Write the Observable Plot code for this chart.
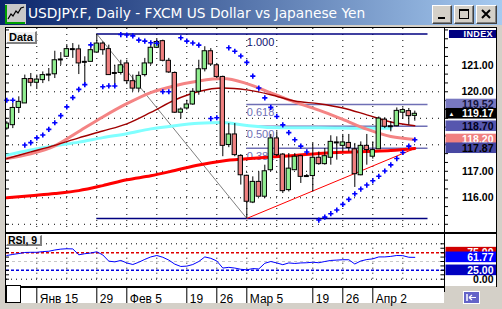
<!DOCTYPE html>
<html>
<head>
<meta charset="utf-8">
<script src="https://cdn.jsdelivr.net/npm/d3@7"></script>
<script src="https://cdn.jsdelivr.net/npm/@observablehq/plot@0.6"></script>
<style>
  html, body { margin:0; padding:0; }
  body { width:502px; height:309px; overflow:hidden; background:#d4d0c8; font-family:"Liberation Sans", Arial, sans-serif; }
  #win { position:relative; width:502px; height:309px; background:#d4d0c8; overflow:hidden; }
  .a { position:absolute; box-sizing:border-box; }
  #title { left:0; top:0; width:502px; height:25px; background:linear-gradient(to right,#0a246a,#a6caf0); }
  #ttext { left:28px; top:4px; color:#fff; font-family:"DejaVu Sans", sans-serif; font-size:13.75px; white-space:nowrap; line-height:18px; }
  .btn { top:5px; width:20px; height:19px; background:#d4d0c8; border:1px solid; border-color:#ffffff #404040 #404040 #ffffff; box-shadow: inset -1px -1px #808080; }
  .btn svg { position:absolute; left:0; top:0; }
  .lbl { background:#f2f2f2; border-right:2px solid #808080; border-bottom:2px solid #808080; border-top:1px solid #fff; border-left:1px solid #fff; font-weight:bold; color:#000; white-space:nowrap; }
  svg.plot { position:absolute; }
</style>
</head>
<body>
<div id="win">
  <div class="a" id="title"></div>
  <div class="a" style="left:5px;top:4px;width:21px;height:20px;">
    <svg width="21" height="20"><rect x="0" y="0" width="21" height="20" fill="#c8c8c8"/><path d="M1,1V19H20" stroke="#00a000" stroke-width="2" fill="none"/><polyline points="3,15 6,10 8,12 11,7 13,9 16,4 19,3" fill="none" stroke="#000" stroke-width="1.2"/></svg>
  </div>
  <div class="a" id="ttext">USDJPY.F, Daily - FXCM US Dollar vs Japanese Yen</div>
  <div class="a btn" style="left:432px;"><svg width="18" height="17"><rect x="5" y="11" width="7" height="2" fill="#000"/></svg></div>
  <div class="a btn" style="left:454px;"><svg width="18" height="17"><rect x="4.5" y="3.5" width="9" height="9" fill="none" stroke="#000"/><rect x="4" y="3" width="10" height="2" fill="#000"/></svg></div>
  <div class="a btn" style="left:476px;width:21px;"><svg width="19" height="17"><path d="M5,4L13,12M13,4L5,12" stroke="#000" stroke-width="2"/></svg></div>
  <div id="plots"></div>
</div>
<script>
// ---------------- DATA ----------------
const firstIndex = -1;  // index of the first (partly hidden) candle; Jan 15 = index 4
const opens  = [118.61,118.74,119.39,119.56,120.48,120.34,120.44,120.65,120.66,121.22,121.32,121.61,121.60,121.13,121.13,121.48,121.82,121.61,120.71,120.71,121.07,120.40,120.12,120.63,121.07,121.66,121.91,121.17,120.71,119.21,119.37,119.52,120.00,120.85,121.53,121.00,120.56,117.99,118.39,117.58,116.83,115.82,116.60,116.04,117.04,118.24,117.63,116.29,117.04,117.57,116.82,116.82,117.51,117.27,117.51,118.09,117.96,118.07,117.83,116.85,117.96,117.55,117.83,118.95,118.70,118.70,119.21,119.27,119.09];
const highs  = [118.87,119.56,119.81,120.63,120.69,120.63,120.75,120.88,121.53,121.48,121.78,121.82,121.76,121.32,121.76,122.17,121.88,121.76,121.00,121.19,121.19,120.63,120.75,121.26,121.78,122.01,121.95,121.26,120.75,119.39,119.68,120.12,121.19,121.70,121.63,121.07,120.59,118.80,118.80,117.63,116.85,116.79,116.98,117.23,118.39,118.49,117.67,117.67,117.67,117.61,116.88,118.05,117.73,117.86,118.34,118.30,118.39,118.39,118.05,118.11,118.39,118.11,119.05,119.02,118.87,119.39,119.39,119.37,119.27];
const lows   = [118.55,118.61,119.18,119.56,120.19,120.12,120.31,120.38,120.50,121.00,121.32,121.26,120.65,120.25,121.13,121.48,121.38,120.63,120.25,120.63,120.27,120.00,120.00,120.56,121.00,121.63,121.13,120.69,119.18,118.97,119.31,119.49,119.87,120.75,120.98,120.50,117.55,117.89,117.55,116.48,115.22,115.78,116.04,115.97,116.98,117.55,116.16,116.22,117.04,116.54,116.78,116.22,117.23,117.23,117.23,117.42,117.73,117.73,116.39,116.83,117.23,117.46,117.83,118.61,118.49,118.68,118.99,118.74,118.89];
const closes = [118.80,119.39,119.62,120.48,120.34,120.46,120.63,120.65,121.19,121.22,121.61,121.61,121.07,121.13,121.57,121.82,121.57,120.63,120.71,121.00,120.40,120.12,120.60,121.07,121.66,121.88,121.17,120.73,119.21,119.33,119.52,120.00,120.85,121.53,121.03,120.56,117.96,118.39,117.61,116.85,115.85,116.60,116.04,117.00,118.24,117.61,116.25,117.10,117.55,116.79,116.82,117.51,117.27,117.57,118.11,118.09,118.09,117.88,116.89,117.96,117.80,117.80,118.99,118.68,118.70,119.28,119.31,119.08,119.17];
const sar    = [119.68,119.68,null,117.99,118.08,118.26,118.37,118.58,118.83,119.10,119.43,119.78,120.09,120.27,121.77,null,120.19,120.22,120.22,122.16,122.14,122.11,121.95,121.91,121.85,121.83,120.00,120.00,null,122.04,121.91,121.84,121.76,null,118.99,119.02,null,121.66,121.53,121.35,121.11,120.59,120.14,119.77,119.41,119.07,118.75,118.46,118.19,117.95,117.73,null,115.16,115.27,115.40,115.54,115.75,115.94,116.15,116.33,116.48,116.64,116.81,117.01,117.24,117.48,117.71,117.95,118.19];
const rsi    = [67,70,72.5,75.5,76,76,78,79,82.5,85,86,85.5,69,72,74,77.5,68.5,51,49,53,46,41.5,48,56,63,67,62,54,42.5,36,37,41.5,50,63,59,51.5,31.5,33.5,31.5,28,26.5,30,29,45,50,46,41,46,44.5,46,46.5,48,46.5,50,53,54,55,55,43,51.5,55.5,57.5,63,63,64.5,67,66.5,62,61.77];

const maIdx    = [-1,3,7,11,15,19,23,27,31,35,39,43,47,51,55,59,63,67];
const maPink   = [117.48,117.66,117.96,118.50,119.05,119.55,119.97,120.23,120.41,120.50,120.31,119.96,119.61,119.31,118.96,118.59,118.31,118.20];
const maMaroon = [117.48,117.73,117.98,118.26,118.52,118.79,119.22,119.69,120.01,120.14,120.07,119.89,119.65,119.55,119.39,119.13,118.86,118.72];
const maCyan   = [117.61,117.80,117.96,118.10,118.27,118.42,118.60,118.72,118.81,118.84,118.73,118.65,118.64,118.64,118.63,118.62,118.62,null];
const maRed    = [116.00,116.08,116.16,116.27,116.46,116.68,116.83,117.03,117.24,117.39,117.47,117.54,117.60,117.67,117.72,117.75,117.78,117.86];

const fibNames    = ["1.000","0.618","0.500","0.382"];
const fibPrices   = [122.18, 119.52, 118.70, 117.87];
const fibLowPrice = 115.22;
const swingHighIdx = 14, swingLowIdx = 39, fibEndIdx = 69.2;
const trendEndIdx = 67, trendEndPrice = 117.86;

const gridPrices      = [115,116,117,118,119,120,121];
const axisLabelPrices = [116,117,120,121];
const weekIdx    = [4,9,14,19,24,29,34,39,44,50,55,60,65];
const dateIdx    = [4,14,19,29,34,39,50,55,60];
const dateLabels = ["Янв 15","29","Фев 5","19","26","Мар 5","19","26","Апр 2"];
const rsiUpper = 75, rsiLower = 25;

// ---------------- BUILD ----------------
const FONT = '"Liberation Sans", Arial, sans-serif';
const xDom = [-1.05, 71.95];
const yDom = [114.69, 122.388];
const rsiDom = [-20.6, 126.3];

const candles = opens.map((o, k) => ({i: firstIndex + k, o, h: highs[k], l: lows[k], c: closes[k]}));
const bodies = candles.filter(d => d.o !== d.c);
const dojis = candles.filter(d => d.o === d.c);
const sarPts = sar.map((v, k) => ({i: firstIndex + k, v})).filter(d => d.v != null);
const rsiPts = rsi.map((v, k) => ({i: firstIndex + k, v}));
const maSeries = vals => maIdx.map((i, k) => ({i, v: vals[k]})).filter(d => d.v != null);
const thirds = d3.range(-1, 24).map(k => 115 + k / 3).filter(v => v > yDom[0] && v < yDom[1]);

const fibOuter = [
  {v: fibPrices[0], x1: swingHighIdx, x2: fibEndIdx},
  {v: fibLowPrice, x1: swingHighIdx, x2: fibEndIdx}
];
const fibInner = fibPrices.slice(1).map(v => ({v, x1: swingLowIdx, x2: fibEndIdx}));
const fibLabels = fibPrices.map((v, k) => ({v, name: fibNames[k], color: k === 0 ? "#101070" : "#6f6fb5"}));

const mainPlot = Plot.plot({
  width: 438, height: 204, margin: 0,
  x: {domain: xDom, axis: null},
  y: {domain: yDom, axis: null},
  style: {background: "white", fontFamily: FONT, overflow: "visible"},
  marks: [
    Plot.ruleY(gridPrices, {stroke: "#000", strokeDasharray: "1,5"}),
    Plot.ruleX(weekIdx, {stroke: "#000", strokeDasharray: "1,5"}),
    Plot.ruleY(thirds, {x1: () => xDom[0], x2: () => xDom[0] + 0.5, stroke: "#000"}),
    Plot.ruleY(fibOuter, {y: "v", x1: "x1", x2: "x2", stroke: "#000080", strokeWidth: 1.4}),
    Plot.ruleY(fibInner, {y: "v", x1: "x1", x2: "x2", stroke: "#6f6fb5", strokeWidth: 1.3}),
    Plot.text(fibLabels, {x: () => swingLowIdx, y: "v", text: "name", fill: "color", textAnchor: "start", lineAnchor: "top", dy: 4, fontSize: 11}),
    Plot.link([{x1: swingHighIdx, y1: fibPrices[0], x2: swingLowIdx, y2: fibLowPrice}], {x1: "x1", y1: "y1", x2: "x2", y2: "y2", stroke: "#707070", strokeWidth: 0.9}),
    Plot.link([{x1: swingLowIdx, y1: fibLowPrice, x2: trendEndIdx, y2: trendEndPrice}], {x1: "x1", y1: "y1", x2: "x2", y2: "y2", stroke: "#ff0000", strokeWidth: 1}),
    Plot.line(maSeries(maRed), {x: "i", y: "v", stroke: "#ff0000", strokeWidth: 3, curve: "monotone-x", clip: true}),
    Plot.line(maSeries(maCyan), {x: "i", y: "v", stroke: "#80ffff", strokeWidth: 3, curve: "monotone-x", clip: true}),
    Plot.line(maSeries(maPink), {x: "i", y: "v", stroke: "#f48484", strokeWidth: 3, curve: "monotone-x", clip: true}),
    Plot.line(maSeries(maMaroon), {x: "i", y: "v", stroke: "#a00000", strokeWidth: 1.4, curve: "monotone-x", clip: true}),
    Plot.ruleX(candles, {x: "i", y1: "l", y2: "h", stroke: "#000", clip: true}),
    Plot.rect(bodies, {x1: d => d.i - 0.36, x2: d => d.i + 0.36, y1: "o", y2: "c",
      fill: d => d.c > d.o ? "#90ee90" : "#f08080", stroke: "#000", clip: true}),
    Plot.ruleY(dojis, {y: "o", x1: d => d.i - 0.42, x2: d => d.i + 0.42, stroke: "#000", strokeWidth: 2, clip: true}),
    Plot.dot(sarPts, {x: "i", y: "v", symbol: "plus", r: 1.8, stroke: "#0000ff", fill: "none", strokeWidth: 1.6})
  ]
});

// right axis panel of main chart
const tagPrices = [fibPrices[1], closes[closes.length - 1], fibPrices[2], maPink[maPink.length - 1], fibPrices[3]];
const tagFill = ["#7878c0", "#000000", "#5656ae", "#f08080", "#4848a2"];
const tagInk  = ["#14143c", "#ffffff", "#000020", "#ffffff", "#000000"];
const tags = tagPrices.map((v, k) => ({v, fill: tagFill[k], ink: tagInk[k]}));

const rightMarks = [
  Plot.ruleY(thirds, {x1: () => 0, x2: () => 3, stroke: "#000"}),
  Plot.text(axisLabelPrices, {x: () => 48, y: d => d, text: d => d.toFixed(2), textAnchor: "end", fontWeight: "bold", fontSize: 10.5, fill: "#000"})
];
tags.forEach((t, k) => {
  rightMarks.push(Plot.rect([t], {x1: () => 0.5, x2: () => 51, y1: d => d.v - 0.2, y2: d => d.v + 0.2, fill: "fill"}));
  rightMarks.push(Plot.text([t], {x: () => 48, y: "v", text: d => d.v.toFixed(2), fill: "ink", textAnchor: "end", fontWeight: "bold", fontSize: 10.5}));
  if (k === 1) rightMarks.push(Plot.text([t], {x: () => 6, y: "v", text: () => "▲", fill: "#fff", fontSize: 6}));
});
const rightPlot = Plot.plot({
  width: 51, height: 204, margin: 0,
  x: {domain: [0, 51], range: [0, 51], axis: null},
  y: {domain: yDom, axis: null},
  style: {background: "white", fontFamily: FONT, overflow: "visible"},
  marks: rightMarks
});

// RSI panel
const rsiPlot = Plot.plot({
  width: 438, height: 52, margin: 0,
  x: {domain: xDom, axis: null},
  y: {domain: rsiDom, axis: null},
  style: {background: "white", fontFamily: FONT, overflow: "visible"},
  marks: [
    Plot.ruleX(weekIdx, {y1: () => 0, y2: () => 100, stroke: "#000", strokeDasharray: "1,4"}),
    Plot.ruleY([0, 100], {stroke: "#000", strokeDasharray: "1,4"}),
    Plot.ruleY([50], {stroke: "#c8c8c8", strokeDasharray: "3,3"}),
    Plot.ruleY([rsiUpper], {stroke: "#e00000", strokeDasharray: "3,2", strokeWidth: 1.5}),
    Plot.ruleY([rsiLower], {stroke: "#0000e0", strokeDasharray: "3,2", strokeWidth: 1.5}),
    Plot.ruleY(d3.range(0, 101, 12.5), {x1: () => xDom[0], x2: () => xDom[0] + 0.5, stroke: "#000"}),
    Plot.ruleY(d3.range(0, 101, 12.5), {x1: () => xDom[1] - 0.6, x2: () => xDom[1], stroke: "#000"}),
    Plot.line(rsiPts, {x: "i", y: "v", stroke: "#0000ff", strokeWidth: 1, clip: true})
  ]
});

const rsiTags = [
  {v: rsiUpper, fill: "#d00000", ink: "#ffffff"},
  {v: rsi[rsi.length - 1], fill: "#0000ff", ink: "#ffffff"},
  {v: 0, fill: null, ink: "#000000"},
  {v: rsiLower, fill: "#0000c0", ink: "#ffffff"}
];
const rsiRightMarks = [];
rsiTags.forEach(t => {
  if (t.fill) rsiRightMarks.push(Plot.rect([t], {x1: () => 0.5, x2: () => 51, y1: d => d.v - 15, y2: d => d.v + 15, fill: "fill"}));
  rsiRightMarks.push(Plot.text([t], {x: () => 48, y: "v", text: d => d.v.toFixed(2), fill: "ink", textAnchor: "end", fontWeight: "bold", fontSize: 10.5}));
});
const rsiRight = Plot.plot({
  width: 51, height: 52, margin: 0,
  x: {domain: [0, 51], range: [0, 51], axis: null},
  y: {domain: rsiDom, axis: null},
  style: {background: "white", fontFamily: FONT, overflow: "visible"},
  marks: rsiRightMarks
});

// date axis
const datePlot = Plot.plot({
  width: 438, height: 15, margin: 0,
  x: {domain: xDom, axis: null},
  y: {domain: [0, 1], axis: null},
  style: {background: "white", fontFamily: FONT, overflow: "visible"},
  marks: [
    Plot.ruleX(dateIdx, {stroke: "#000"}),
    Plot.text(dateIdx, {x: d => d, y: () => 0.5, text: (d, k) => dateLabels[k], textAnchor: "start", dx: 3, dy: 3, fontSize: 12, fill: "#000"})
  ]
});

const win = document.getElementById("win");
function place(el, left, top) {
  el.style.position = "absolute";
  el.style.left = left + "px";
  el.style.top = top + "px";
  el.style.maxWidth = "none";
  win.appendChild(el);
}
place(mainPlot, 6, 28);
place(rightPlot, 445, 28);
place(rsiPlot, 6, 234);
place(rsiRight, 445, 234);
place(datePlot, 6, 288);

function div(style, html) {
  const d = document.createElement("div");
  d.className = "a";
  d.setAttribute("style", style);
  if (html) d.innerHTML = html;
  win.appendChild(d);
  return d;
}
// frame lines
div("left:5px;top:27px;width:492px;height:1px;background:#000;");
div("left:5px;top:27px;width:1px;height:276px;background:#000;");
div("left:444px;top:27px;width:1px;height:265px;background:#000;");
div("left:496px;top:27px;width:1px;height:260px;background:#000;");
div("left:5px;top:232px;width:492px;height:2px;background:#000;");
div("left:5px;top:286px;width:440px;height:2px;background:#000;");
// INDEX tag
div("left:449px;top:30px;width:47px;height:8px;background:#000080;color:#fff;font:bold 9px " + FONT + ";letter-spacing:0.4px;text-align:right;line-height:8px;padding-right:3px;", "INDEX");
// panel labels
div("left:6px;top:31px;width:31px;height:13px;font-size:11px;line-height:10px;padding-left:2px;", "Data").classList.add("lbl");
div("left:6px;top:235px;width:36px;height:11px;font-size:10.5px;line-height:9px;padding-left:1px;", "RSI, 9").classList.add("lbl");
// bottom-left button
div("left:6px;top:285px;width:15px;height:18px;background:#fff;border:1px solid #000;");
// bottom-right icon button
div("left:463px;top:291px;width:17px;height:13px;background:#6464c8;border:1px solid #fff;",
  '<svg width="15" height="11" style="position:absolute;left:0;top:0"><path d="M3,2V9" stroke="#fff" stroke-width="1.5"/><path d="M5,5.5H12M5,5.5L8,3M5,5.5L8,8" stroke="#fff" stroke-width="1.2" fill="none"/></svg>');
</script>
</body>
</html>
